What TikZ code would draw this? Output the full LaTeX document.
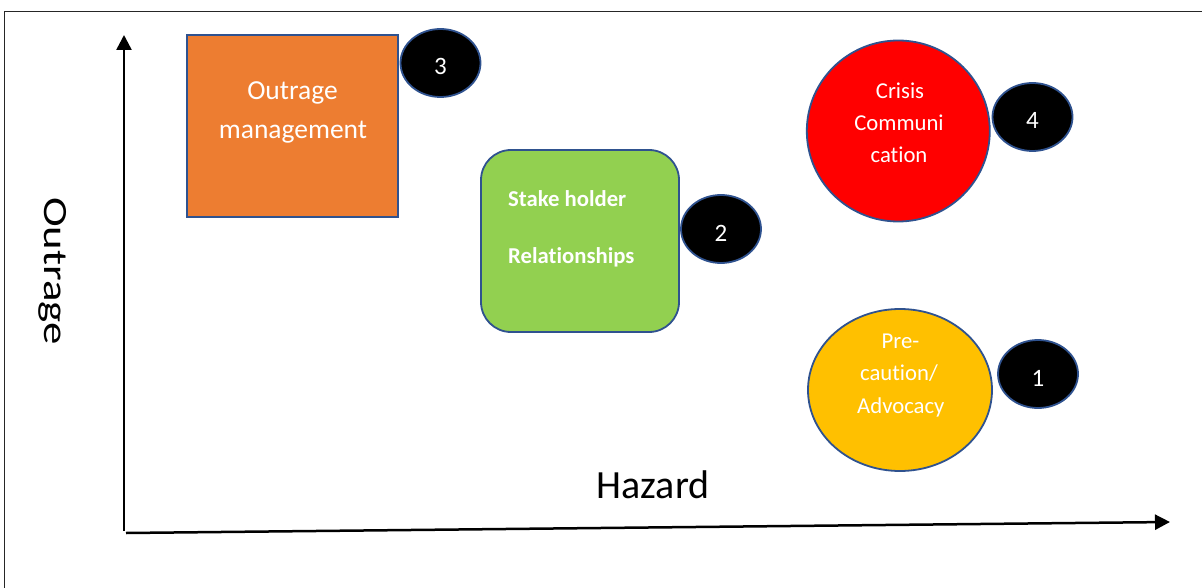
\documentclass[tikz,border=0pt]{standalone}
\usepackage{fontspec}
\setmainfont{Carlito}[Ligatures=NoCommon]
\usetikzlibrary{arrows.meta,shapes.geometric}

\definecolor{edgeblue}{HTML}{2F528F}
\definecolor{orangefill}{HTML}{ED7D31}
\definecolor{greenfill}{HTML}{92D050}
\definecolor{redfill}{HTML}{FF0000}
\definecolor{yellowfill}{HTML}{FFC000}
\definecolor{framegray}{HTML}{262626}

\tikzset{
  frameline/.style={draw=framegray, line width=1.5pt},
  axisline/.style={draw=black, line width=2.5pt, -{Triangle[length=15pt,width=15pt]}},
  zone/.style={draw=edgeblue, line width=1.8pt, inner sep=0pt},
  squarezone/.style={zone, rectangle, fill=orangefill},
  roundzone/.style={zone, rectangle, rounded corners=30pt, fill=greenfill},
  circlezone/.style={zone, ellipse},
  badge/.style={zone, ellipse, fill=black, minimum width=80pt, minimum height=68pt,
    text=white, font=\fontsize{25pt}{30pt}\selectfont, text height=24pt, text depth=0pt},
  lbl/.style={text=white, inner sep=0pt, anchor=base},
  lblbig/.style={lbl, font=\fontsize{27.5pt}{33pt}\selectfont},
  lblmid/.style={lbl, font=\fontsize{22.7pt}{27pt}\selectfont},
  lblbold/.style={lbl, anchor=base west, font=\fontsize{22.7pt}{27pt}\selectfont\bfseries},
  axislabel/.style={text=black, inner sep=0pt}
}

\begin{document}
\begin{tikzpicture}[x=1pt, y=-1pt]
\useasboundingbox (0,0) rectangle (1202,588);

% outer frame (top and left edges)
\draw[frameline] (4.5,588) -- (4.5,11.5) -- (1202,11.5);

% axes
\coordinate (yfoot) at (124,531);
\coordinate (ytip) at (124,35);
\coordinate (xfoot) at (126,533);
\coordinate (xtip) at (1170,522);
\draw[axisline] (yfoot) -- (ytip);
\draw[axisline] (xfoot) -- (xtip);

% axis titles
\node[axislabel, anchor=base, font=\fontsize{40pt}{48pt}\selectfont] (hazard) at (653,498) {Hazard};
\node[axislabel, anchor=base west, rotate=-90, xscale=1.32,
      font=\fontsize{34pt}{40pt}\selectfont] (outrage) at (44,197) {Outrage};

% quadrant shapes
\node[squarezone, minimum width=211pt, minimum height=182pt] (mgmt) at (292.5,126) {};
\node[roundzone, minimum width=198pt, minimum height=182pt] (stake) at (580,241) {};
\node[circlezone, fill=redfill, minimum width=183pt, minimum height=181pt] (crisis) at (898.3,131) {};
\node[circlezone, fill=yellowfill, minimum width=184pt, minimum height=162pt] (advoc) at (900,390) {};

% texts inside the shapes
\node[lblbig] (mgmt1) at (292.5,100) {Outrage};
\node[lblbig] (mgmt2) at (293,139) {management};

\node[lblbold] (stake1) at (508,206.5) {Stake holder};
\node[lblbold] (stake2) at (508,263) {Relationships};

\node[lblmid] (crisis1) at (900,99) {Crisis};
\node[lblmid] (crisis2) at (899,131) {Communi};
\node[lblmid] (crisis3) at (899,163) {cation};

\node[lblmid] (advoc1) at (900.5,348) {Pre-};
\node[lblmid] (advoc2) at (899,380) {caution/};
\node[lblmid] (advoc3) at (900.8,413) {Advocacy};

% numbered badges
\node[badge] (n3) at (440.5,63) {3};
\node[badge] (n2) at (721,229) {2};
\node[badge] (n4) at (1032.5,117) {4};
\node[badge] (n1) at (1038,374) {1};
\end{tikzpicture}
\end{document}
